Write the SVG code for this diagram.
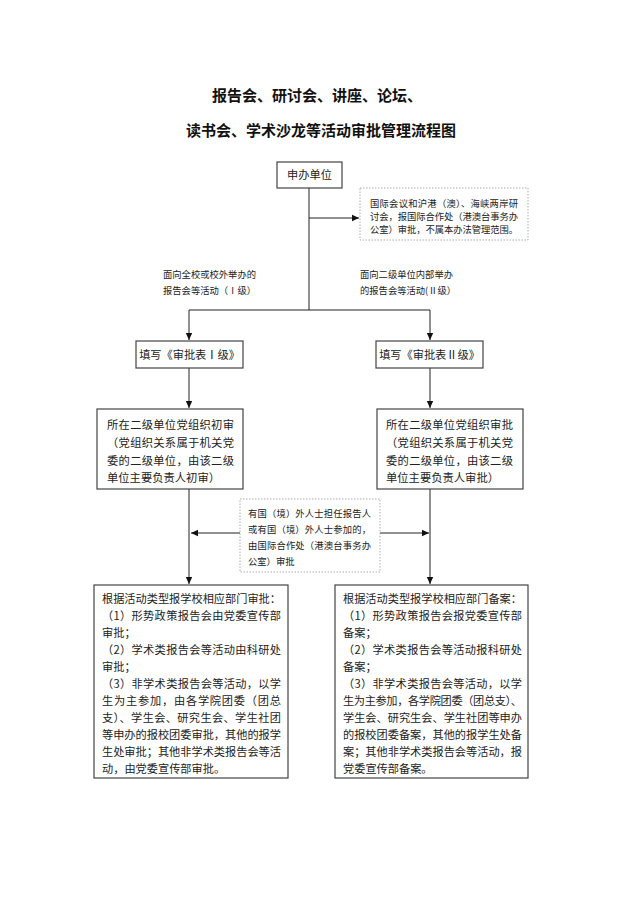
<svg xmlns="http://www.w3.org/2000/svg" width="640" height="904" viewBox="0 0 640 904">
<defs>
<style>
text{font-family:"Noto Sans CJK SC","Liberation Sans",sans-serif;fill:#222;}
.t{font-size:15px;font-weight:bold;fill:#111;}
.b{fill:#fff;stroke:#444;stroke-width:1.2;}
.d{fill:#fff;stroke:#aaa;stroke-width:1;stroke-dasharray:1.5 1.5;}
.s{font-size:9.3px;}
.m{font-size:11.2px;}
.n{font-size:11.3px;}
.c{stroke:#222;stroke-width:1;fill:none;}
</style>
<marker id="ar" markerWidth="8" markerHeight="8" refX="7" refY="4" orient="auto" markerUnits="userSpaceOnUse">
<path d="M0,0.8 L7,4 L0,7.2 Z" fill="#111"/>
</marker>
</defs>
<rect width="640" height="904" fill="#fff"/>
<g id="title">
<text class="t" x="317" y="100.5" text-anchor="middle">报告会、研讨会、讲座、论坛、</text>
<text class="t" x="321" y="135.5" text-anchor="middle">读书会、学术沙龙等活动审批管理流程图</text>
</g>
<g id="connectors">
<path class="c" d="M309,188 V310"/>
<path class="c" d="M309,218 H359" marker-end="url(#ar)"/>
<path class="c" d="M189,310 H430"/>
<path class="c" d="M189,310 V340" marker-end="url(#ar)"/>
<path class="c" d="M430,310 V340" marker-end="url(#ar)"/>
<path class="c" d="M189,368 V408" marker-end="url(#ar)"/>
<path class="c" d="M430,368 V408" marker-end="url(#ar)"/>
<path class="c" d="M189,489 V584" marker-end="url(#ar)"/>
<path class="c" d="M430,489 V584" marker-end="url(#ar)"/>
<path class="c" d="M240,533 H191" marker-end="url(#ar)"/>
<path class="c" d="M380,533 H429" marker-end="url(#ar)"/>
</g>
<g id="start">
<rect class="b" x="277" y="162" width="65" height="26"/>
<text class="m" x="309.5" y="179" text-anchor="middle">申办单位</text>
</g>
<g id="intl-note">
<rect class="d" x="360" y="188" width="168" height="52"/>
<text class="s" x="370" y="206.5" textLength="148" lengthAdjust="spacing">国际会议和沪港（澳）、海峡两岸研</text>
<text class="s" x="370" y="219.5" textLength="148" lengthAdjust="spacing">讨会，报国际合作处（港澳台事务办</text>
<text class="s" x="370" y="232.5" textLength="148" lengthAdjust="spacing">公室）审批，不属本办法管理范围。</text>
</g>
<g id="label-1">
<text class="s" x="163" y="277.5">面向全校或校外举办的</text>
<text class="s" x="163" y="293.5">报告会等活动（Ⅰ级）</text>
</g>
<g id="label-2">
<text class="s" x="360" y="277.5">面向二级单位内部举办</text>
<text class="s" x="360" y="293.5">的报告会等活动(Ⅱ级）</text>
</g>
<g id="form-1">
<rect class="b" x="136" y="341" width="107" height="27"/>
<text class="m" x="189.5" y="358.5" text-anchor="middle">填写《审批表Ⅰ级》</text>
</g>
<g id="form-2">
<rect class="b" x="376" y="341" width="107" height="27"/>
<text class="m" x="429.5" y="358.5" text-anchor="middle">填写《审批表Ⅱ级》</text>
</g>
<g id="review-1">
<rect class="b" x="97" y="409" width="146" height="80"/>
<text class="n" x="107" y="429" textLength="127" lengthAdjust="spacing">所在二级单位党组织初审</text>
<text class="n" x="107" y="447" textLength="127" lengthAdjust="spacing">（党组织关系属于机关党</text>
<text class="n" x="107" y="464.5" textLength="127" lengthAdjust="spacing">委的二级单位，由该二级</text>
<text class="n" x="107" y="482">单位主要负责人初审）</text>
</g>
<g id="review-2">
<rect class="b" x="377" y="409" width="146" height="80"/>
<text class="n" x="386" y="429" textLength="127" lengthAdjust="spacing">所在二级单位党组织审批</text>
<text class="n" x="386" y="447" textLength="127" lengthAdjust="spacing">（党组织关系属于机关党</text>
<text class="n" x="386" y="464.5" textLength="127" lengthAdjust="spacing">委的二级单位，由该二级</text>
<text class="n" x="386" y="482">单位主要负责人审批）</text>
</g>
<g id="foreign-note">
<rect class="d" x="240" y="499" width="140" height="73"/>
<text class="s" x="248" y="516.5" textLength="123" lengthAdjust="spacing">有国（境）外人士担任报告人</text>
<text class="s" x="248" y="532.5" textLength="123" lengthAdjust="spacing">或有国（境）外人士参加的，</text>
<text class="s" x="248" y="548.5" textLength="123" lengthAdjust="spacing">由国际合作处（港澳台事务办</text>
<text class="s" x="248" y="565">公室）审批</text>
</g>
<g id="approve-1">
<rect class="b" x="94" y="585" width="194" height="193"/>
<text class="m" x="102" y="603" textLength="179" lengthAdjust="spacing">根据活动类型报学校相应部门审批：</text>
<text class="m" x="102" y="620" textLength="179" lengthAdjust="spacing">（1）形势政策报告会由党委宣传部</text>
<text class="m" x="102" y="637">审批；</text>
<text class="m" x="102" y="654" textLength="179" lengthAdjust="spacing">（2）学术类报告会等活动由科研处</text>
<text class="m" x="102" y="671">审批；</text>
<text class="m" x="102" y="688" textLength="179" lengthAdjust="spacing">（3）非学术类报告会等活动，以学</text>
<text class="m" x="102" y="705" textLength="179" lengthAdjust="spacing">生为主参加，由各学院团委（团总</text>
<text class="m" x="102" y="722" textLength="179" lengthAdjust="spacing">支）、学生会、研究生会、学生社团</text>
<text class="m" x="102" y="739" textLength="179" lengthAdjust="spacing">等申办的报校团委审批，其他的报学</text>
<text class="m" x="102" y="756" textLength="179" lengthAdjust="spacing">生处审批；其他非学术类报告会等活</text>
<text class="m" x="102" y="773">动，由党委宣传部审批。</text>
</g>
<g id="approve-2">
<rect class="b" x="335" y="585" width="193" height="193"/>
<text class="m" x="343" y="603" textLength="179" lengthAdjust="spacing">根据活动类型报学校相应部门备案：</text>
<text class="m" x="343" y="620" textLength="179" lengthAdjust="spacing">（1）形势政策报告会报党委宣传部</text>
<text class="m" x="343" y="637">备案；</text>
<text class="m" x="343" y="654" textLength="179" lengthAdjust="spacing">（2）学术类报告会等活动报科研处</text>
<text class="m" x="343" y="671">备案；</text>
<text class="m" x="343" y="688" textLength="179" lengthAdjust="spacing">（3）非学术类报告会等活动，以学</text>
<text class="m" x="343" y="705" textLength="179" lengthAdjust="spacing">生为主参加，各学院团委（团总支）、</text>
<text class="m" x="343" y="722" textLength="179" lengthAdjust="spacing">学生会、研究生会、学生社团等申办</text>
<text class="m" x="343" y="739" textLength="179" lengthAdjust="spacing">的报校团委备案，其他的报学生处备</text>
<text class="m" x="343" y="756" textLength="179" lengthAdjust="spacing">案；其他非学术类报告会等活动，报</text>
<text class="m" x="343" y="773">党委宣传部备案。</text>
</g>
</svg>
